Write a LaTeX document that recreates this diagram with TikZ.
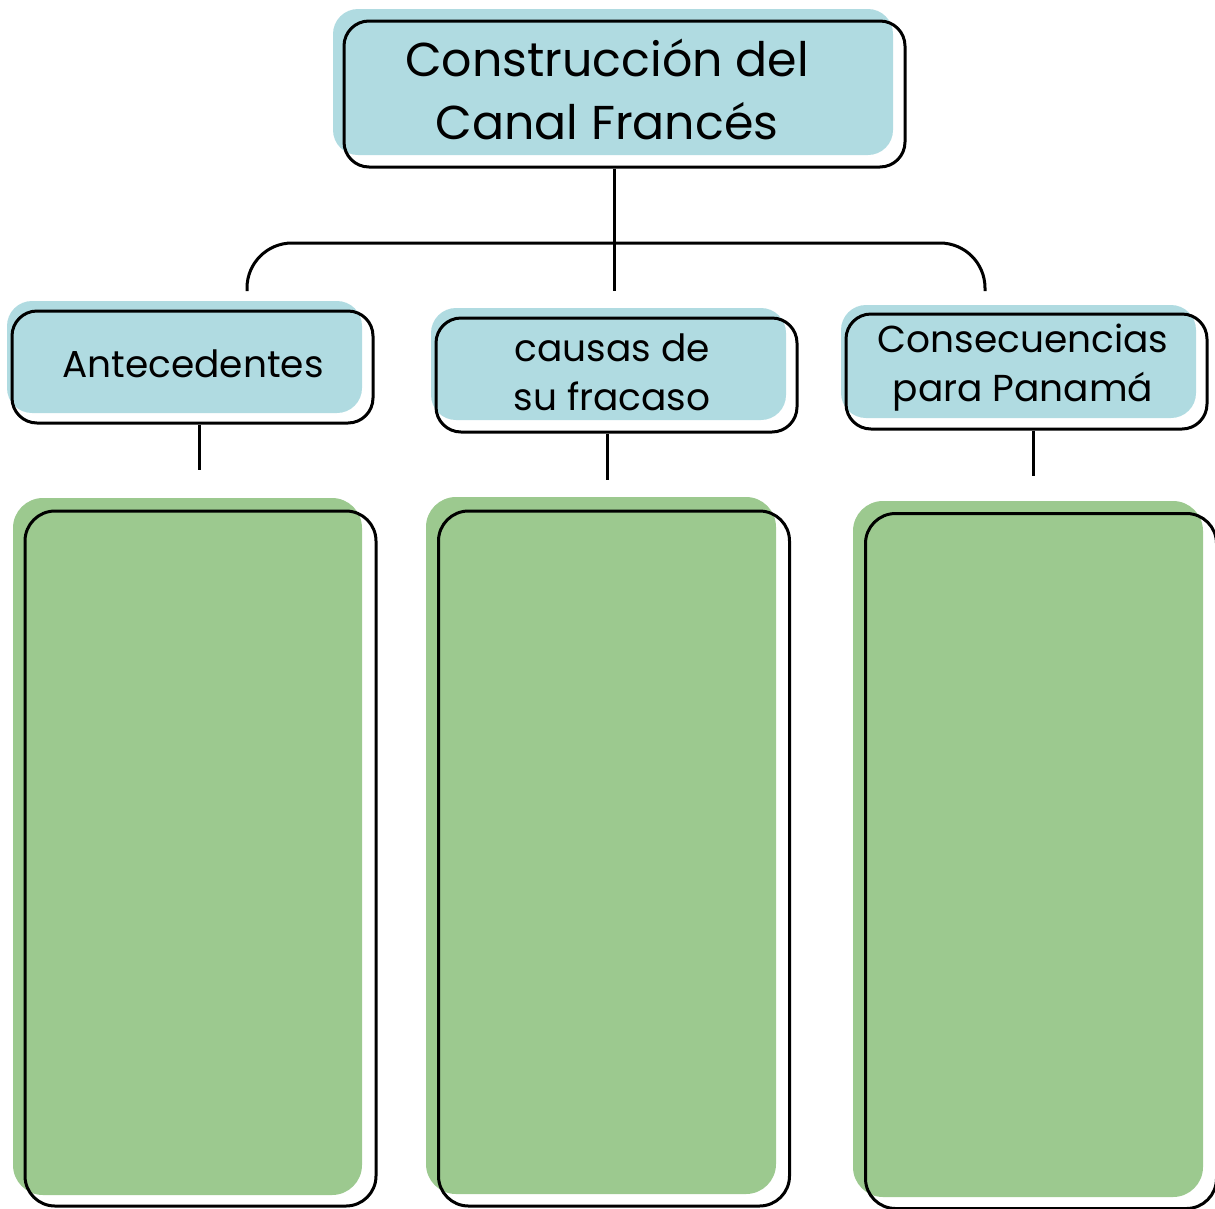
\documentclass[tikz,border=0pt]{standalone}
\usepackage{fontspec}
\setmainfont{Poppins}
\definecolor{bluefill}{RGB}{176,219,225}
\definecolor{greenfill}{RGB}{156,201,143}
\begin{document}
\begin{tikzpicture}[x=1pt,y=-1pt,
  outbox/.style={draw=black, line width=3pt, rounded corners=25, inner sep=0pt, minimum width=361},
  bigbox/.style={draw=black, line width=3pt, rounded corners=30, inner sep=0pt, minimum width=351, minimum height=695},
  conn/.style={draw=black, line width=3pt},
  titletxt/.style={font=\fontsize{47.5}{63}\selectfont, align=center, inner sep=0pt},
  cattxt/.style={font=\fontsize{37.5}{49}\selectfont, align=center, inner sep=0pt}]
\useasboundingbox (0,0) rectangle (1215,1208);
% offset fills
\fill[bluefill, rounded corners=25] (333,9) rectangle (893,155);
\fill[bluefill, rounded corners=25] (7,301) rectangle (362,413);
\fill[bluefill, rounded corners=25] (431,308) rectangle (786,420);
\fill[bluefill, rounded corners=25] (841,305) rectangle (1196,418);
\fill[greenfill, rounded corners=30] (13,498) rectangle (362,1195);
\fill[greenfill, rounded corners=30] (426,497) rectangle (776,1194);
\fill[greenfill, rounded corners=30] (853,501) rectangle (1203,1197);
% outlines
\node[outbox, minimum width=561, minimum height=146] (title) at (624.5,94) {};
\node[outbox, minimum height=112] (ante) at (192.5,367) {};
\node[outbox, minimum height=114] (caus) at (616.5,375) {};
\node[outbox, minimum height=115] (cons) at (1026.5,371.5) {};
\node[bigbox] (gA) at (200.5,858.5) {};
\node[bigbox] (gB) at (614,858.5) {};
\node[bigbox] (gC) at (1041,861) {};
% texts
\node[titletxt] (titletext) at (607,89) {Construcción del\\Canal Francés};
\node[cattxt] (antetext) at (193,364) {Antecedentes};
\node[cattxt] (caustext) at (612,372) {causas de\\su fracaso};
\node[cattxt] (constext) at (1023,368) {Consecuencias\\para Panamá};
% connectors
\coordinate (stem) at (614,291);
\coordinate (brL) at (247,291);
\coordinate (brM) at (614,243);
\coordinate (brR) at (985,291);
\draw[conn] (title.south -| stem) -- (stem);
\draw[conn, rounded corners=45] (brL) |- (brM) -| (brR);
\coordinate (anteend) at (199,470);
\coordinate (causend) at (607,480);
\coordinate (consend) at (1033,476);
\draw[conn] (ante.south -| anteend) -- (anteend);
\draw[conn] (caus.south -| causend) -- (causend);
\draw[conn] (cons.south -| consend) -- (consend);
\end{tikzpicture}
\end{document}
